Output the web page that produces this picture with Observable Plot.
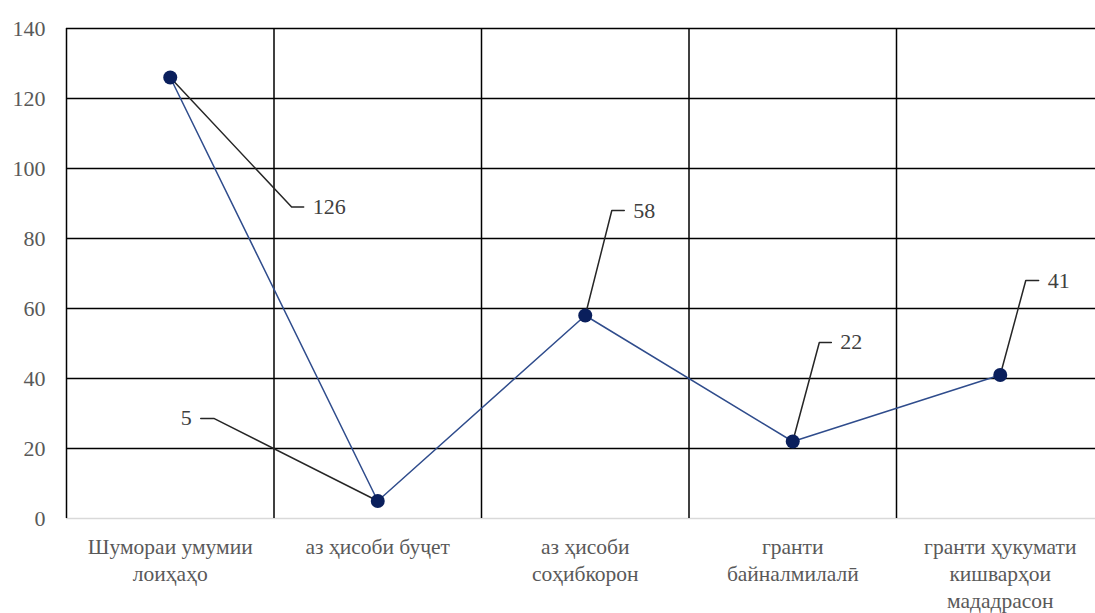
<!DOCTYPE html>
<html>
<head>
<meta charset="utf-8">
<script src="https://cdn.jsdelivr.net/npm/d3@7"></script>
<script src="https://cdn.jsdelivr.net/npm/@observablehq/plot@0.6"></script>
<style>
  html, body { margin: 0; padding: 0; background: #fff; }
  #chart { width: 1095px; height: 613px; overflow: hidden; }
  #chart svg, #chart svg text, #chart svg tspan { font-family: "Liberation Serif", "DejaVu Serif", serif !important; }
</style>
</head>
<body>
<div id="chart"></div>
<script>
// ---- data ----
const categories = [
  "Шумораи умумии\nлоиҳаҳо",
  "аз ҳисоби буҷет",
  "аз ҳисоби\nсоҳибкорон",
  "гранти\nбайналмилалӣ",
  "гранти ҳукумати\nкишварҳои\nмададрасон"
];
const values = [126, 5, 58, 22, 41];
const yTicks = [0, 20, 40, 60, 80, 100, 120, 140];

// ---- label placement (leader elbow offset in category units, label height in value units) ----
const labelLayout = [
  { dx: 0.585, y: 89.0, stub: 0.058 },
  { dx: -0.79, y: 28.6, stub: -0.063 },
  { dx: 0.128, y: 88.0, stub: 0.06 },
  { dx: 0.128, y: 50.3, stub: 0.058 },
  { dx: 0.123, y: 68.0, stub: 0.062 }
];

const idx = d3.range(categories.length);
const series = idx.map(i => ({ x: i, y: values[i] }));
const bounds = idx.map(i => i - 0.5);

const leaders = idx.flatMap(i => {
  const L = labelLayout[i];
  const ex = i + L.dx, sx = ex + L.stub;
  return [
    { k: i, x: i, y: values[i] },
    { k: i, x: ex, y: L.y },
    { k: i, x: sx, y: L.y }
  ];
});
const labels = idx.map(i => {
  const L = labelLayout[i];
  return { x: i + L.dx + L.stub, y: L.y, text: String(values[i]), right: L.stub > 0 };
});

const chart = Plot.plot({
  width: 1095,
  height: 613,
  marginLeft: 66,
  marginRight: -8.5,
  marginTop: 28,
  marginBottom: 95,
  style: { fontFamily: "'Liberation Serif', 'DejaVu Serif', serif", fontSize: "22px", color: "#595959", background: "#fff" },
  x: { domain: [-0.5, categories.length - 0.5] },
  y: { domain: [0, 140] },
  marks: [
    Plot.ruleY([0], { stroke: "#d9d9d9", strokeWidth: 1.5 }),
    Plot.ruleY(yTicks.filter(t => t > 0), { stroke: "#000", strokeWidth: 1.5 }),
    Plot.ruleX(bounds, { y1: 0, y2: 140, stroke: "#000", strokeWidth: 1.5 }),
    Plot.axisY({ ticks: yTicks, tickSize: 0, tickPadding: 21, label: null, fontSize: 22, fill: "#595959" }),
    Plot.axisX({ ticks: idx, tickFormat: i => categories[i], tickSize: 0, tickPadding: 17, label: null, fontSize: 21.5, lineHeight: 1.24, fill: "#595959" }),
    Plot.line(leaders, { x: "x", y: "y", z: "k", stroke: "#262626", strokeWidth: 1.5 }),
    Plot.line(series, { x: "x", y: "y", stroke: "#2f4c8c", strokeWidth: 1.5 }),
    Plot.dot(series, { x: "x", y: "y", r: 7, fill: "#0a1f5c", stroke: "none" }),
    Plot.text(labels.filter(d => d.right), { x: "x", y: "y", text: "text", textAnchor: "start", dx: 9, fill: "#404040", fontSize: 22 }),
    Plot.text(labels.filter(d => !d.right), { x: "x", y: "y", text: "text", textAnchor: "end", dx: -9, fill: "#404040", fontSize: 22 })
  ]
});
document.getElementById("chart").appendChild(chart);
</script>
</body>
</html>
